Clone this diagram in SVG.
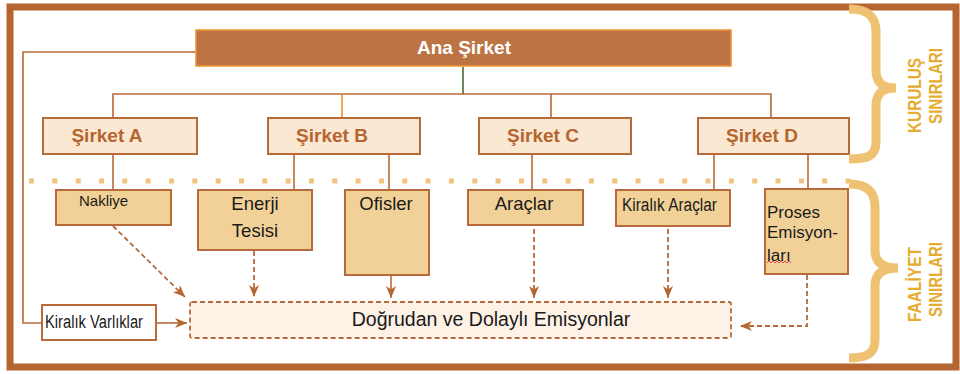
<svg xmlns="http://www.w3.org/2000/svg" width="960" height="374" viewBox="0 0 960 374">
<defs>
<marker id="ah" viewBox="0 0 12 10" refX="12" refY="5" markerWidth="12" markerHeight="10" markerUnits="userSpaceOnUse" orient="auto">
<path d="M0,0 L12,5 L0,10 L3.5,5 Z" fill="#B5652F"/>
</marker>
<style>
.t{font-family:"Liberation Sans",Arial,sans-serif}
.line{fill:none;stroke:#B86A3A;stroke-width:1.6}
.dash{fill:none;stroke:#B86A3A;stroke-width:1.8;stroke-dasharray:5 3}
.co{fill:#FAE8D2;stroke:#B86A3A;stroke-width:2}
.co-t{font-family:"Liberation Sans",Arial,sans-serif;font-weight:bold;font-size:19px;fill:#B5652F}
.act{fill:#F1D197;stroke:#B86A3A;stroke-width:2}
.act-t{font-family:"Liberation Sans",Arial,sans-serif;fill:#1a1a1a}
.brace{fill:none;stroke:#EEC272;stroke-width:9}
.bt{font-family:"Liberation Sans",Arial,sans-serif;font-weight:bold;font-size:18px;fill:#E5AC2F}
</style>
</defs>
<rect x="0" y="0" width="960" height="374" fill="#ffffff"/>
<rect x="10" y="7" width="946" height="360" fill="#ffffff" stroke="#B5652F" stroke-width="7"/>

<!-- dotted boundary line -->
<line x1="29" y1="181" x2="852" y2="181" stroke="#F0C27E" stroke-width="5" stroke-dasharray="5 18.33"/>

<g id="connectors">
<polyline class="line" points="196,52 23,52 23,323 42,323"/>
<line x1="463" y1="67" x2="463" y2="94" stroke="#4A6A30" stroke-width="1.6"/>
<polyline class="line" points="113,118 113,94 771,94 771,118"/>
<line x1="342" y1="94" x2="342" y2="118" stroke="#F0922C" stroke-width="1.6"/>
<line class="line" x1="551" y1="94" x2="551" y2="118"/>
<line class="line" x1="113" y1="154" x2="113" y2="190"/>
<line class="line" x1="294" y1="154" x2="294" y2="190"/>
<line class="line" x1="389" y1="154" x2="389" y2="190"/>
<line class="line" x1="532" y1="154" x2="532" y2="190"/>
<line class="line" x1="714" y1="154" x2="714" y2="190"/>
<line class="line" x1="808" y1="154" x2="808" y2="189"/>
<line class="dash" x1="113" y1="226" x2="185" y2="297" marker-end="url(#ah)"/>
<line class="dash" x1="254" y1="251" x2="254" y2="297" marker-end="url(#ah)"/>
<line class="line" x1="391" y1="276" x2="391" y2="298" marker-end="url(#ah)"/>
<line class="dash" x1="534" y1="229" x2="534" y2="298" marker-end="url(#ah)"/>
<line class="dash" x1="668" y1="229" x2="668" y2="298" marker-end="url(#ah)"/>
<polyline class="dash" points="807,275 807,326 740,326" marker-end="url(#ah)"/>
<line class="line" x1="157" y1="323" x2="187" y2="323" marker-end="url(#ah)"/>
</g>

<g id="ana-sirket">
<rect x="196" y="30" width="535" height="36" fill="#BC7444" stroke="#F0922C" stroke-width="1.5"/>
<text class="t" x="464" y="54" text-anchor="middle" font-size="19" font-weight="bold" fill="#ffffff">Ana Şirket</text>
</g>

<g id="sirket-a">
<rect class="co" x="43" y="118" width="154" height="36"/>
<text class="co-t" x="107" y="142" text-anchor="middle">Şirket A</text>
</g>
<g id="sirket-b">
<rect class="co" x="268" y="118" width="152" height="36"/>
<text class="co-t" x="332" y="142" text-anchor="middle">Şirket B</text>
</g>
<g id="sirket-c">
<rect class="co" x="479" y="118" width="152" height="36"/>
<text class="co-t" x="543" y="142" text-anchor="middle">Şirket C</text>
</g>
<g id="sirket-d">
<rect class="co" x="698" y="118" width="151" height="36"/>
<text class="co-t" x="762" y="142" text-anchor="middle">Şirket D</text>
</g>

<g id="nakliye">
<rect class="act" x="56" y="190" width="115" height="35"/>
<text class="act-t" x="79" y="206" font-size="15">Nakliye</text>
</g>
<g id="enerji-tesisi">
<rect class="act" x="198" y="190" width="114" height="60"/>
<text class="act-t" x="255" y="210" font-size="18.5" text-anchor="middle">Enerji</text>
<text class="act-t" x="255" y="237" font-size="18.5" text-anchor="middle">Tesisi</text>
</g>
<g id="ofisler">
<rect class="act" x="345" y="190" width="84" height="85"/>
<text class="act-t" x="386" y="210" font-size="18.5" text-anchor="middle">Ofisler</text>
</g>
<g id="araclar">
<rect class="act" x="468" y="190" width="115" height="35"/>
<text class="act-t" x="524" y="210" font-size="18.5" text-anchor="middle">Araçlar</text>
</g>
<g id="kiralik-araclar">
<rect class="act" x="616" y="190" width="114" height="36"/>
<text class="act-t" x="622" y="211" font-size="18" textLength="95" lengthAdjust="spacingAndGlyphs">Kiralık Araçlar</text>
</g>
<g id="proses-emisyonlari">
<rect class="act" x="765" y="189" width="83" height="85"/>
<text class="act-t" x="767" y="218" font-size="17">Proses</text>
<text class="act-t" x="767" y="238" font-size="17">Emisyon-</text>
<text class="act-t" x="767" y="261" font-size="17">ları</text>
<path d="M767,263 l2,-2 l2,2 l2,-2 l2,2 l2,-2 l2,2 l2,-2 l2,2 l2,-2 l2,2 l2,-2 l2,2" fill="none" stroke="#E04040" stroke-width="0.9"/>
</g>

<g id="emisyonlar">
<rect x="190" y="302" width="541" height="36" fill="#FDF2E5" stroke="#B86A3A" stroke-width="1.8" stroke-dasharray="5 3" rx="2"/>
<text class="act-t" x="491" y="326" font-size="19.5" text-anchor="middle">Doğrudan ve Dolaylı Emisyonlar</text>
</g>

<g id="kiralik-varliklar">
<rect x="42" y="305" width="114" height="35" fill="#ffffff" stroke="#B86A3A" stroke-width="2"/>
<text class="act-t" x="45" y="328" font-size="18" textLength="98" lengthAdjust="spacingAndGlyphs">Kiralık Varlıklar</text>
</g>

<g id="kurulus-siniri">
<path class="brace" d="M849,9 C868,9 876,16 876,32 L876,70 C876,82 882,88 896,88 C882,88 876,94 876,106 L876,142 C876,156 868,159 849,159"/>
<text class="bt" transform="translate(921,133) rotate(-90)" textLength="75" lengthAdjust="spacingAndGlyphs">KURULUŞ</text>
<text class="bt" transform="translate(942,124) rotate(-90)" textLength="76" lengthAdjust="spacingAndGlyphs">SINIRLARI</text>
</g>

<g id="faaliyet-siniri">
<path class="brace" d="M849,184 C866,184 875,191 875,207 L875,250 C875,262 882,268 898,268 C882,268 875,274 875,286 L875,340 C875,354 866,358 849,358"/>
<text class="bt" transform="translate(921,322) rotate(-90)" textLength="75" lengthAdjust="spacingAndGlyphs">FAALİYET</text>
<text class="bt" transform="translate(942,317) rotate(-90)" textLength="75" lengthAdjust="spacingAndGlyphs">SINIRLARI</text>
</g>
</svg>
